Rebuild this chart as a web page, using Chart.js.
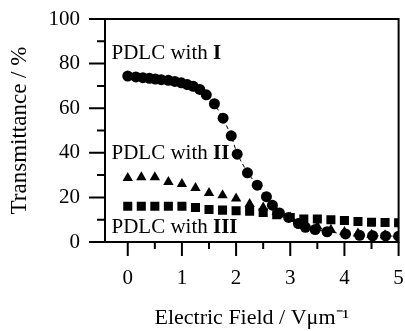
<!DOCTYPE html>
<html>
<head>
<meta charset="utf-8">
<script src="https://cdn.jsdelivr.net/npm/chart.js@4.4.0/dist/chart.umd.min.js"></script>
<style>
  html, body { margin: 0; padding: 0; background: #fff; }
</style>
</head>
<body>
<canvas id="myChart" width="405" height="331"></canvas>
<script>
// PDLC with I (circles, dashed guide line)
const fieldI = [0, 0.15, 0.28, 0.40, 0.51, 0.62, 0.75, 0.87, 0.99, 1.10, 1.21, 1.33, 1.45, 1.60, 1.76, 1.91, 2.02, 2.21, 2.39, 2.56, 2.67, 2.80, 2.97, 3.15, 3.28, 3.46, 3.68, 4.02, 4.28, 4.52, 4.76, 5.0];
const transI = [74.4, 74.0, 73.7, 73.4, 73.1, 72.8, 72.5, 72.0, 71.4, 70.6, 69.8, 68.4, 66.0, 62.0, 55.5, 47.6, 39.4, 31.0, 25.5, 20.3, 16.5, 13.0, 11.0, 8.3, 6.6, 5.6, 4.6, 3.6, 3.0, 2.8, 2.7, 2.6];
// PDLC with II (triangles)
const fieldII = [0, 0.25, 0.5, 0.75, 1.0, 1.25, 1.5, 1.75, 2.0, 2.25, 2.5, 2.75, 3.0, 3.25, 3.5, 3.75, 4.0, 4.25, 4.5, 4.75, 5.0];
const transII = [28.7, 29.0, 29.0, 26.9, 26.0, 24.2, 22.0, 21.0, 19.5, 17.0, 15.5, 13.5, 11.0, 8.5, 7.0, 5.5, 4.5, 3.8, 3.3, 3.0, 2.8];
// PDLC with III (squares)
const fieldIII = [0, 0.25, 0.5, 0.75, 1.0, 1.25, 1.5, 1.75, 2.0, 2.25, 2.5, 2.75, 3.0, 3.25, 3.5, 3.75, 4.0, 4.25, 4.5, 4.75, 5.0];
const transIII = [16.0, 16.0, 16.0, 16.0, 16.0, 15.5, 14.6, 14.3, 14.0, 13.8, 13.2, 12.2, 11.0, 10.3, 10.3, 10.0, 9.6, 9.2, 8.9, 8.7, 8.6];

const xMajor = [0, 1, 2, 3, 4, 5];
const xMinor = [0.5, 1.5, 2.5, 3.5, 4.5];
const yMajor = [0, 20, 40, 60, 80, 100];
const yMinor = [10, 30, 50, 70, 90];

const noteText = ['PDLC with ', 'PDLC with ', 'PDLC with '];
const noteBold = ['I', 'II', 'III'];
const noteX = [-0.30, -0.30, -0.30];
const noteY = [84.6, 39.6, 6.6];

const serif = '"Liberation Serif", "Times New Roman", serif';

function pts(xs, ys) {
    return xs.map((x, i) => ({ x: x, y: ys[i] }));
}

const frameTicks = {
    id: 'frameTicks',
    afterDraw: (chart) => {
        const ctx = chart.ctx;
        const a = chart.chartArea;
        const sx = chart.scales.x;
        const sy = chart.scales.y;
        ctx.save();
        ctx.strokeStyle = 'black';
        ctx.lineWidth = 2;
        ctx.strokeRect(a.left, a.top, a.right - a.left, a.bottom - a.top);
        ctx.beginPath();
        xMajor.forEach(v => {
            const p = sx.getPixelForValue(v);
            ctx.moveTo(p, a.bottom);
            ctx.lineTo(p, a.bottom + 14);
        });
        xMinor.forEach(v => {
            const p = sx.getPixelForValue(v);
            ctx.moveTo(p, a.bottom);
            ctx.lineTo(p, a.bottom + 7);
        });
        yMajor.forEach(v => {
            const p = sy.getPixelForValue(v);
            ctx.moveTo(a.left, p);
            ctx.lineTo(a.left - 16, p);
        });
        yMinor.forEach(v => {
            const p = sy.getPixelForValue(v);
            ctx.moveTo(a.left, p);
            ctx.lineTo(a.left - 8, p);
        });
        ctx.stroke();

        // labels for the three samples
        ctx.fillStyle = 'black';
        ctx.textBaseline = 'middle';
        ctx.textAlign = 'left';
        for (let i = 0; i < noteText.length; i++) {
            const px = sx.getPixelForValue(noteX[i]);
            const py = sy.getPixelForValue(noteY[i]);
            ctx.font = '21px ' + serif;
            ctx.fillText(noteText[i], px, py);
            const w = ctx.measureText(noteText[i]).width;
            ctx.font = 'bold 21px ' + serif;
            ctx.fillText(noteBold[i], px + w, py);
        }
        ctx.restore();
    }
};

const ctx = document.getElementById('myChart').getContext('2d');
const myChart = new Chart(ctx, {
    type: 'scatter',
    data: {
        datasets: [{
            label: 'PDLC with I',
            data: pts(fieldI, transI),
            showLine: true,
            borderColor: 'black',
            borderWidth: 1,
            borderDash: [4, 3],
            backgroundColor: 'black',
            pointStyle: 'circle',
            pointRadius: 5.5,
            pointBorderWidth: 0
        }, {
            label: 'PDLC with II',
            data: pts(fieldII, transII),
            backgroundColor: 'black',
            borderColor: 'black',
            pointStyle: 'triangle',
            pointRadius: 6,
            pointBorderWidth: 0
        }, {
            label: 'PDLC with III',
            data: pts(fieldIII, transIII),
            backgroundColor: 'black',
            borderColor: 'black',
            pointStyle: 'rect',
            pointRadius: 6.4,
            pointBorderWidth: 0
        }]
    },
    options: {
        responsive: false,
        animation: false,
        events: [],
        layout: { padding: { top: 19, right: 5, left: 0, bottom: 0 } },
        plugins: {
            legend: { display: false },
            tooltip: { enabled: false }
        },
        scales: {
            x: {
                type: 'linear',
                min: -0.42,
                max: 5,
                afterBuildTicks: s => { s.ticks = xMajor.map(v => ({ value: v })); },
                afterFit: s => { s.height = 89; s.paddingLeft = 0; s.paddingRight = 0; },
                grid: { display: true, drawOnChartArea: false, color: 'transparent', tickLength: 14 },
                border: { display: false },
                ticks: { color: 'black', padding: 10, font: { family: serif, size: 21 }, maxRotation: 0 },
                title: {
                    display: true,
                    text: 'Electric Field / V\u03bcm\u207b\u00b9',
                    color: 'black',
                    font: { family: serif, size: 22 },
                    padding: { top: 0, bottom: 0 }
                }
            },
            y: {
                type: 'linear',
                min: 0,
                max: 100,
                afterBuildTicks: s => { s.ticks = yMajor.map(v => ({ value: v })); },
                afterFit: s => { s.width = 105; s.paddingTop = 0; s.paddingBottom = 0; },
                grid: { display: true, drawOnChartArea: false, color: 'transparent', tickLength: 17 },
                border: { display: false },
                ticks: { color: 'black', padding: 8, font: { family: serif, size: 21 } },
                title: {
                    display: true,
                    text: 'Transmittance / %',
                    color: 'black',
                    font: { family: serif, size: 23 },
                    padding: { top: 6, bottom: 0 }
                }
            }
        }
    },
    plugins: [frameTicks]
});
</script>
</body>
</html>
